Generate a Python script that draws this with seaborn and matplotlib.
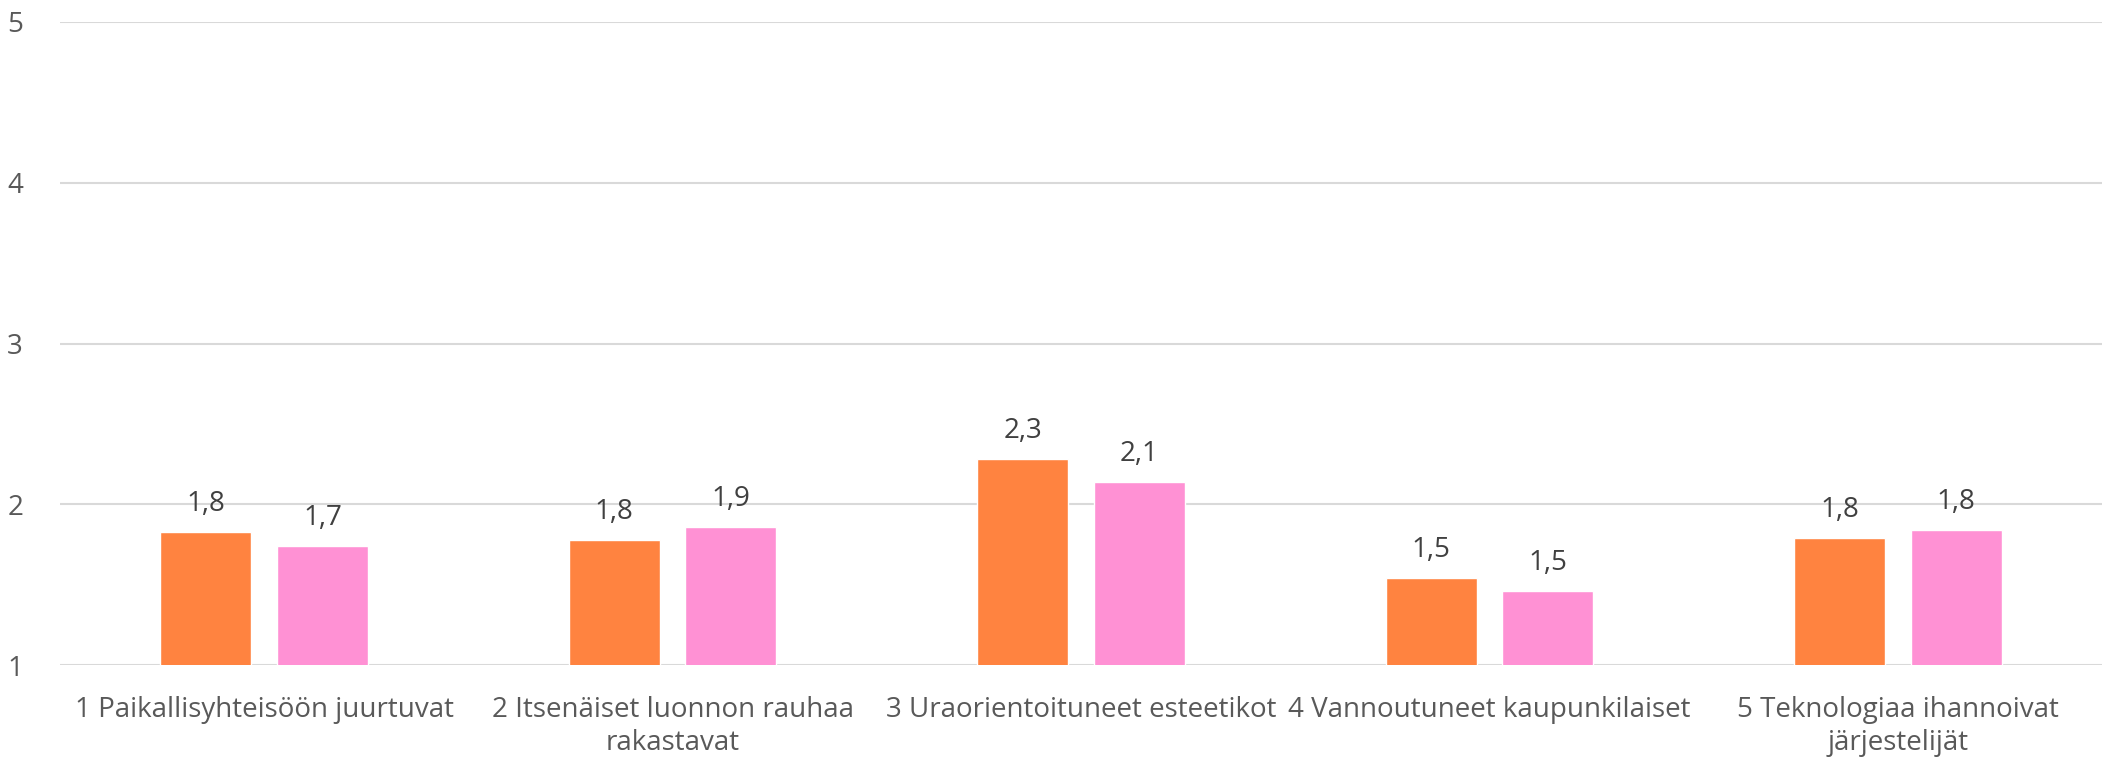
import pandas as pd
import seaborn as sns
import matplotlib.pyplot as plt

categories = [
    "1 Paikallisyhteisöön juurtuvat",
    "2 Itsenäiset luonnon rauhaa\nrakastavat",
    "3 Uraorientoituneet esteetikot",
    "4 Vannoutuneet kaupunkilaiset",
    "5 Teknologiaa ihannoivat\njärjestelijät",
]
series_names = ["A", "B"]
values_a = [1.83, 1.78, 2.28, 1.54, 1.79]
values_b = [1.74, 1.86, 2.14, 1.46, 1.84]
y_ticks = [1, 2, 3, 4, 5]

colors = ["#FF8340", "#FF91D4"]

df = pd.DataFrame({
    "category": categories * 2,
    "series": [series_names[0]] * 5 + [series_names[1]] * 5,
    "value": values_a + values_b,
})

sns.set_theme(style="white")
plt.rcParams['font.family'] = ['Open Sans', 'DejaVu Sans']

fig = plt.figure(figsize=(21.02, 7.62), dpi=100)
ax = fig.add_axes([60 / 2102, 97 / 762, 2042 / 2102, 643 / 762])

sns.barplot(data=df, x="category", y="value", hue="series", palette=colors,
            saturation=1, width=0.571, gap=0.218, ax=ax, legend=False, zorder=3)

for cont in ax.containers:
    labels = ["{:.1f}".format(b.get_height()).replace(".", ",") for b in cont]
    ax.bar_label(cont, labels=labels, padding=10, fontsize=20, color="#404040")

ax.set_ylim(1, 5)
ax.set_yticks(y_ticks)
ax.yaxis.grid(True, color="#D9D9D9", linewidth=1.5, zorder=0)
ax.set_axisbelow(True)
for s in ax.spines.values():
    s.set_visible(False)

ax.set(xlabel="", ylabel="")
ax.tick_params(axis="both", length=0, labelsize=20, labelcolor="#595959")
ax.tick_params(axis="x", pad=22)
ax.tick_params(axis="y", pad=38)
for t in ax.get_yticklabels():
    t.set_horizontalalignment("left")
for t in ax.get_xticklabels():
    t.set_linespacing(1.25)

plt.savefig("out.png", dpi=100)
